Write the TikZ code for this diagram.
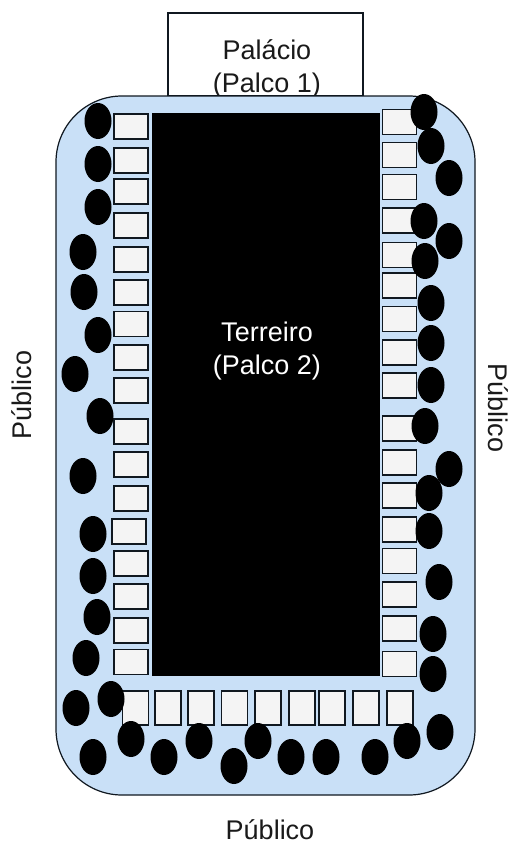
\documentclass[tikz,border=0pt]{standalone}
\usepackage{fontspec}
\setmainfont{Liberation Sans}
\usetikzlibrary{shapes.geometric}
\definecolor{platea}{HTML}{C9E0F7}
\definecolor{assentofill}{HTML}{F4F4F4}
\definecolor{contorno}{HTML}{101820}
\definecolor{letra}{HTML}{1A1A1A}
\tikzset{
    rotulo/.style={text=letra, font=\fontsize{27}{33}\selectfont, align=center, inner sep=0pt},
    assento/.style={draw=contorno, fill=assentofill, line width=1.5pt, minimum width=34pt, minimum height=25pt, inner sep=0pt},
    assentob/.style={assento, minimum width=26pt, minimum height=34pt},
    pessoa/.style={ellipse, fill=black, minimum width=27pt, minimum height=36pt, inner sep=0pt}
}
\begin{document}
\begin{tikzpicture}[x=1pt, y=-1pt]
    \useasboundingbox (0,0) rectangle (509,843);
    \draw [draw=contorno, fill=white, line width=1.2pt] (168,13) rectangle (363,96);
    \node [rotulo] (palacio) at (267,69) {Palácio\\(Palco 1)};
    \draw [draw=contorno, fill=platea, line width=1.2pt, rounded corners=66pt] (56,96) rectangle (475,795);
    \fill [black] (152,113) rectangle (380,676);
    \node [rotulo, text=white] (terreiro) at (267,351) {Terreiro\\(Palco 2)};
    % assentos
    \foreach \y [count=\i] in {126.5,160.5,191.5,225.5,259.5,292.5,324,357.5,390.5,431.5,464.5,498.5,563.5,596.5,630.5,662}
        \node [assento] (esq\i) at (131,\y) {};
    \node [assento] (esq17) at (129,531.5) {};
    \foreach \y [count=\i] in {122,155,187,220.5,255,285.5,319,352.5,385.5,428.5,462.5,495.5,529.5,561,594.5,628.5,664}
        \node [assento] (dir\i) at (399.5,\y) {};
    \foreach \x [count=\i] in {135.5,168,201,234.5,268,302,332,366,400}
        \node [assentob] (fundo\i) at (\x,708) {};
    % publico
    \foreach \x/\y [count=\i] in {98/121,98/164,98/207,83/252,84/292,98/335,75/374,100/416,83/476,93/534,93/576,97/617,86/658,76/708,111/699,93/757,131/739,164/757,199/741,234/766,258/741,291/757,326/757,375/757,407/741,440/732,433/674,424/112,431/146,449/178,424/221,449/241,425/261,431/303,431/343,431/385,425/426,449/469,429/493,429/531,439/582,433/634}
        \node [pessoa] (p\i) at (\x,\y) {};
    \node [rotulo] (pubbaixo) at (270,830) {Público};
    \node [rotulo, rotate=90] (pubesq) at (22,395) {Público};
    \node [rotulo, rotate=-90] (pubdir) at (498,408) {Público};
\end{tikzpicture}
\end{document}
